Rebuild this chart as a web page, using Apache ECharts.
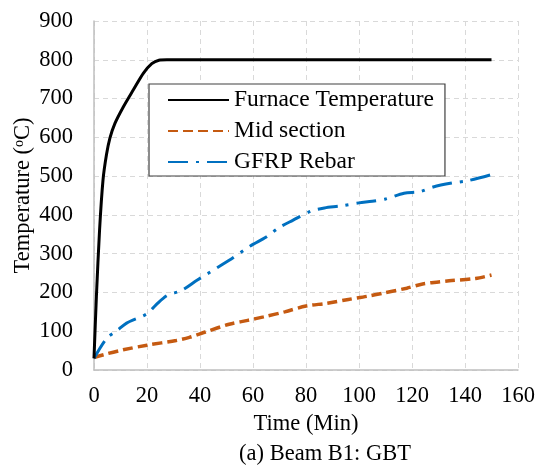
<!DOCTYPE html>
<html>
<head>
<meta charset="utf-8">
<script src="https://cdn.jsdelivr.net/npm/echarts@6/dist/echarts.min.js"></script>
<style>
html,body{margin:0;padding:0;background:#fff;}
#chart{width:547px;height:472px;}
</style>
</head>
<body>
<div id="chart"></div>
<script>
// Time (min), Temperature (°C)
const furnaceTime = [0, 0.9, 2.1, 3.4, 4.7, 6, 7.9, 11.1, 14.8, 18.6, 21.8, 24.5, 27.5, 150];
const furnaceTemp = [30, 189, 361, 490, 555, 598, 636, 679, 722, 765, 790, 799, 800, 800];

const midTime = [0, 5, 11, 20, 31, 36, 42, 51, 58, 64, 72, 80, 88, 96, 103, 109, 118, 124, 130, 134, 144, 150];
const midTemp = [32, 42, 52, 64, 76, 84, 98, 118, 128, 137, 150, 165, 172, 182, 190, 198, 211, 222, 227, 230, 236, 245];

const rebarTime = [0, 4.8, 8.6, 12.3, 20, 23.4, 27.5, 33, 39, 51, 59, 65, 70, 75, 82, 87, 93, 100, 105, 110, 117, 123, 128, 135, 141, 150];
const rebarTemp = [30, 82, 101, 121, 145, 168, 192, 205, 232, 283, 320, 343, 368, 386, 410, 418, 423, 431, 435, 441, 456, 460, 472, 482, 488, 504];

const seriesNames = ['Furnace Temperature', 'Mid section', 'GFRP Rebar'];
const xTicks = {min: 0, max: 160, interval: 20};
const yTicks = {min: 0, max: 900, interval: 100};

const zip = (a, b) => a.map((v, i) => [v, b[i]]);
const FONT = '"Liberation Serif", "Times New Roman", serif';
const FS = 22.5;

const chart = echarts.init(document.getElementById('chart'), null, {renderer: 'canvas'});
const gridLine = {show: true, lineStyle: {color: '#d9d9d9', type: [5, 4], width: 1}};
chart.setOption({
  animation: false,
  textStyle: {fontFamily: FONT, color: '#000'},
  grid: {left: 94, right: 29, top: 21, bottom: 102, containLabel: false, outerBoundsMode: 'none'},
  xAxis: {
    type: 'value', min: xTicks.min, max: xTicks.max, interval: xTicks.interval,
    name: 'Time (Min)', nameLocation: 'middle', nameGap: 43, nameMoveOverlap: false,
    nameTextStyle: {fontFamily: FONT, fontSize: FS, color: '#000'},
    axisLine: {show: true, lineStyle: {color: '#bfbfbf', width: 1.5}},
    axisTick: {show: false},
    axisLabel: {fontFamily: FONT, fontSize: FS, color: '#000', margin: 15},
    splitLine: gridLine
  },
  yAxis: {
    type: 'value', min: yTicks.min, max: yTicks.max, interval: yTicks.interval,
    name: 'Temperature ({sup|o}C)', nameLocation: 'middle', nameGap: 59, nameRotate: 90,
    nameMoveOverlap: false,
    nameTextStyle: {fontFamily: FONT, fontSize: FS, color: '#000',
      rich: {sup: {fontFamily: FONT, fontSize: 14, color: '#000', verticalAlign: 'top', padding: [0, 0, 8, 0]}}},
    axisLine: {show: true, lineStyle: {color: '#bfbfbf', width: 1.5}},
    axisTick: {show: false},
    axisLabel: {fontFamily: FONT, fontSize: FS, color: '#000', margin: 21},
    splitLine: gridLine
  },
  legend: {
    orient: 'vertical', left: 149, top: 84,
    data: seriesNames,
    backgroundColor: '#fff', borderColor: '#404040', borderWidth: 1.2,
    padding: [4, 11, 2, 18],
    itemWidth: 61, itemHeight: 14, itemGap: 7,
    itemStyle: {opacity: 0},
    textStyle: {fontFamily: FONT, fontSize: 23.5, color: '#000', lineHeight: 22, padding: [0, 0, 0, 0]}
  },
  series: [
    {name: seriesNames[0], type: 'line', data: zip(furnaceTime, furnaceTemp), showSymbol: false, symbol: 'none',
     smooth: 0.25,
     lineStyle: {color: '#000', width: 3}, itemStyle: {color: '#000'}, z: 3},
    {name: seriesNames[1], type: 'line', data: zip(midTime, midTemp), showSymbol: false, symbol: 'none',
     smooth: 0.3,
     lineStyle: {color: '#C55A11', width: 3.5, type: [10, 5]}, itemStyle: {color: '#C55A11'}, z: 2},
    {name: seriesNames[2], type: 'line', data: zip(rebarTime, rebarTemp), showSymbol: false, symbol: 'none',
     smooth: 0.3,
     lineStyle: {color: '#0070C0', width: 3, type: [20, 8, 3, 8]}, itemStyle: {color: '#0070C0'}, z: 2}
  ],
  graphic: [
    {type: 'text', x: 325, y: 454,
     style: {text: '(a) Beam B1: GBT', font: FS + 'px ' + FONT, fill: '#000',
       align: 'center', verticalAlign: 'middle', textAlign: 'center', textVerticalAlign: 'middle'}}
  ]
});
</script>
</body>
</html>
